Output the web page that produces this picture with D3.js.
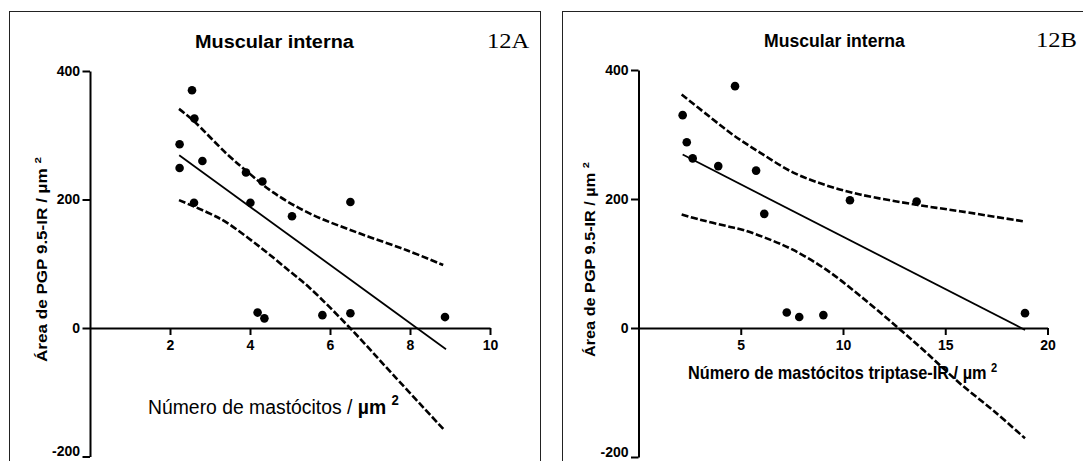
<!DOCTYPE html>
<html>
<head>
<meta charset="utf-8">
<script src="https://cdn.jsdelivr.net/npm/d3@7/dist/d3.min.js"></script>
<style>
  html, body { margin: 0; padding: 0; background: #fff; }
  svg { display: block; }
</style>
</head>
<body>
<svg id="chart" width="1083" height="461"></svg>
<script>
// ---------------- DATA ----------------
// Panel 12A: Número de mastócitos vs Área de PGP 9.5-IR
const pointsAX = [2.55, 2.61, 2.24, 2.81, 2.24, 3.90, 4.31, 2.60, 4.01, 6.51, 5.05, 4.19, 4.36, 5.81, 6.51, 8.875];
const pointsAY = [370, 326, 286, 260, 249, 242, 228, 195, 195, 196, 174, 24, 15, 20, 23, 17];
const regAX = [2.23, 8.9];
const regAY = [269, -33];
const upperAX = [2.225, 2.58, 3.42, 3.92, 4.58, 5.5, 6.75, 7.92, 8.83];
const upperAY = [341, 323, 271, 244, 211, 178, 147, 121, 98];
const lowerAX = [2.225, 3.0, 3.42, 4.25, 5.0, 5.5, 6.5, 7.58, 8.875];
const lowerAY = [199, 178, 164, 126, 88, 62, 0, -73, -160];
const ticksAX = [2, 4, 6, 8, 10];

// Panel 12B: Número de mastócitos triptase-IR vs Área de PGP 9.5-IR
const pointsBX = [4.72, 2.16, 2.36, 2.65, 3.90, 5.75, 6.15, 10.34, 13.6, 7.25, 7.86, 9.04, 18.9];
const pointsBY = [375, 330, 288, 263, 251, 244, 177, 198, 196, 24, 17, 20, 23];
const regBX = [2.16, 18.9];
const regBY = [269, -3];
const upperBX = [2.11, 3.5, 4.64, 5.94, 7.57, 9.2, 10.83, 13.6, 15.72, 18.9];
const upperBY = [362, 327, 299, 272, 241, 221, 207, 191, 181, 165];
const lowerBX = [2.11, 3.0, 4.31, 5.12, 6.27, 7.57, 9.2, 10.83, 12.63, 14.1, 15.72, 17.35, 18.9];
const lowerBY = [176, 168, 158, 152, 139, 121, 90, 50, 2, -39, -86, -128, -171];
const ticksBX = [5, 10, 15, 20];

const ticksY = [-200, 0, 200, 400];

const titleText = "Muscular interna";
const yTitleText = "Área de PGP 9.5-IR / µm ";
const xTitleA = "Número de mastócitos / ";
const xTitleB = "Número de mastócitos triptase-IR / µm ";
const panelLabels = ["12A", "12B"];

// ---------------- DRAWING ----------------
const svg = d3.select("#chart");
const SANS = "'Liberation Sans', Arial, sans-serif";
const SERIF = "'Liberation Serif', 'Times New Roman', serif";

function fitText(parent, o) {
  const g = parent.append("g")
    .attr("transform", `translate(${o.x},${o.y}) rotate(${o.rotate || 0})`);
  const text = g.append("text")
    .attr("font-family", o.family || SANS)
    .attr("font-size", o.size)
    .attr("font-weight", o.weight || "normal")
    .attr("fill", "#000");
  o.parts.forEach(p => {
    const ts = text.append("tspan").text(p.t);
    if (p.weight) ts.attr("font-weight", p.weight);
    if (p.sup) ts.attr("font-size", o.size * 0.68).attr("dy", -o.size * 0.42);
  });
  const w = text.node().getBBox().width;
  text.attr("transform", `scale(${o.width / w},1)`);
}

function panel(cfg) {
  const x = d3.scaleLinear().domain(cfg.xDomain).range(cfg.xRange);
  const y = d3.scaleLinear().domain([-200, 400]).range(cfg.yRange);
  const g = svg.append("g");

  // frame
  g.append("rect")
    .attr("x", cfg.frame[0]).attr("y", cfg.frame[1])
    .attr("width", cfg.frame[2]).attr("height", cfg.frame[3])
    .attr("fill", "none").attr("stroke", "#222").attr("stroke-width", 1);

  // y axis
  const yAxis = d3.axisLeft(y).tickValues(ticksY).tickFormat(d => String(d))
    .tickSizeInner(7.5).tickSizeOuter(0).tickPadding(2.5);
  const ya = g.append("g").attr("transform", `translate(${x(0)},0)`).call(yAxis);
  // x axis at y=0
  const xAxis = d3.axisBottom(x).tickValues(cfg.xTicks).tickFormat(d => String(d))
    .tickSizeInner(7).tickSizeOuter(0).tickPadding(5.5);
  const xa = g.append("g").attr("transform", `translate(0,${y(0)})`).call(xAxis);

  [ya, xa].forEach(a => {
    a.select(".domain").attr("stroke", "#000").attr("stroke-width", 2);
    a.selectAll(".tick line").attr("stroke", "#000").attr("stroke-width", 2);
    a.selectAll(".tick text")
      .attr("font-family", SANS).attr("font-size", 14).attr("font-weight", "bold").attr("fill", "#000");
  });
  // keep the lowest y label inside the picture
  ya.selectAll(".tick text").filter(d => d === -200).attr("dy", "-0.05em");

  // confidence bands
  const line = d3.line().x(d => x(d[0])).y(d => y(d[1])).curve(d3.curveCatmullRom.alpha(0.5));
  [[cfg.upX, cfg.upY], [cfg.loX, cfg.loY]].forEach(([xs, ys]) => {
    g.append("path")
      .datum(xs.map((v, i) => [v, ys[i]]))
      .attr("d", line)
      .attr("fill", "none").attr("stroke", "#000")
      .attr("stroke-width", 2.6).attr("stroke-dasharray", "7,2.6");
  });
  // regression line
  g.append("path")
    .datum(cfg.regX.map((v, i) => [v, cfg.regY[i]]))
    .attr("d", d3.line().x(d => x(d[0])).y(d => y(d[1])))
    .attr("fill", "none").attr("stroke", "#000").attr("stroke-width", 1.8);

  // points
  g.selectAll("circle.pt")
    .data(cfg.ptX.map((v, i) => [v, cfg.ptY[i]]))
    .join("circle")
    .attr("class", "pt")
    .attr("cx", d => x(d[0])).attr("cy", d => y(d[1]))
    .attr("r", 4.3).attr("fill", "#000");

  return g;
}

const gA = panel({
  xDomain: [0, 10], xRange: [90, 490], yRange: [456.5, 71],
  frame: [9.5, 11.5, 531, 520], xTicks: ticksAX,
  ptX: pointsAX, ptY: pointsAY, regX: regAX, regY: regAY,
  upX: upperAX, upY: upperAY, loX: lowerAX, loY: lowerAY
});
const gB = panel({
  xDomain: [0, 20], xRange: [638.5, 1047.5], yRange: [457, 70],
  frame: [562.5, 11.5, 560, 520], xTicks: ticksBX,
  ptX: pointsBX, ptY: pointsBY, regX: regBX, regY: regBY,
  upX: upperBX, upY: upperBY, loX: lowerBX, loY: lowerBY
});

// Titles
fitText(gA, { x: 195, y: 48, width: 160, size: 18, weight: "bold", parts: [{ t: titleText }] });
fitText(gB, { x: 764, y: 47, width: 142, size: 18, weight: "bold", parts: [{ t: titleText }] });
// Panel labels
fitText(gA, { x: 487, y: 48, width: 43, size: 20, family: SERIF, parts: [{ t: panelLabels[0] }] });
fitText(gB, { x: 1036, y: 47, width: 41, size: 20, family: SERIF, parts: [{ t: panelLabels[1] }] });
// Y titles
fitText(gA, { x: 46.5, y: 362, rotate: -90, width: 205, size: 14, weight: "bold",
  parts: [{ t: yTitleText }, { t: "2", sup: true }] });
fitText(gB, { x: 595, y: 357, rotate: -90, width: 195, size: 14, weight: "bold",
  parts: [{ t: yTitleText }, { t: "2", sup: true }] });
// X titles
fitText(gA, { x: 148, y: 414, width: 251, size: 21, weight: "normal",
  parts: [{ t: xTitleA }, { t: "µm ", weight: "bold" }, { t: "2", sup: true, weight: "bold" }] });
fitText(gB, { x: 688, y: 379, width: 310, size: 17.5, weight: "bold",
  parts: [{ t: xTitleB }, { t: "2", sup: true }] });
</script>
</body>
</html>
